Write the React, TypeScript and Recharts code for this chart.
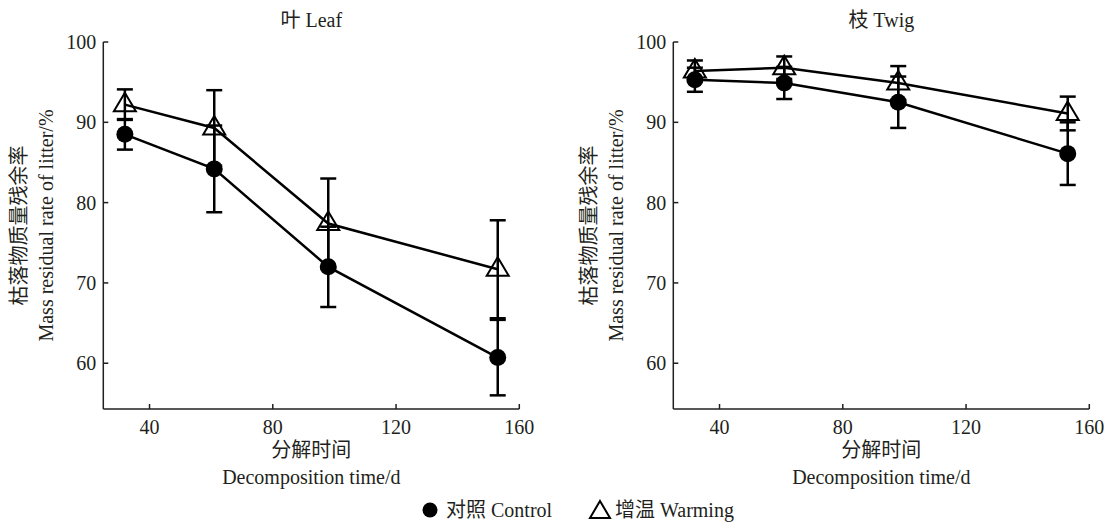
import { ErrorBar, Line, LineChart, XAxis, YAxis } from "recharts";

// sampling days (x) shared by both panels
const days = [32, 61, 98, 153];

// leaf litter, mass residual %
const leafControl = [88.5, 84.2, 72.0, 60.7];
const leafControlErr = [1.9, 5.4, 5.0, 4.7];
const leafWarming = [92.2, 89.3, 77.4, 71.7];
const leafWarmingErr = [1.9, 4.7, 5.6, 6.1];

// twig litter, mass residual %
const twigControl = [95.3, 94.9, 92.5, 86.1];
const twigControlErr = [1.5, 2.0, 3.2, 3.9];
const twigWarming = [96.4, 96.8, 94.9, 91.1];
const twigWarmingErr = [1.3, 1.4, 2.1, 2.1];

const xTicks = [40, 80, 120, 160];
const yTicks = [60, 70, 80, 90, 100];

const FONT = "'Liberation Serif', 'Times New Roman', 'Noto Sans CJK SC', serif";
const INK = "#231f20";
const FS = 20;
const PLOT_W = 416;

type Row = {
  day: number;
  control: number;
  controlErr: number;
  warming: number;
  warmingErr: number;
};

const buildRows = (
  control: number[],
  controlErr: number[],
  warming: number[],
  warmingErr: number[],
): Row[] =>
  days.map((day, i) => ({
    day,
    control: control[i],
    controlErr: controlErr[i],
    warming: warming[i],
    warmingErr: warmingErr[i],
  }));

const leafRows = buildRows(leafControl, leafControlErr, leafWarming, leafWarmingErr);
const twigRows = buildRows(twigControl, twigControlErr, twigWarming, twigWarmingErr);

// ticks point inward, so the tick line is drawn here together with the label
function XTick({ x, y, payload }: any) {
  return (
    <g>
      <line x1={x} x2={x} y1={y} y2={y - 5} stroke={INK} strokeWidth={1.5} />
      <text x={x} y={y + 18} textAnchor="middle" dominantBaseline="central" fill={INK} fontSize={FS} fontFamily={FONT}>
        {payload.value}
      </text>
    </g>
  );
}

function YTick({ x, y, payload }: any) {
  return (
    <g>
      <line x1={x} x2={x + 5} y1={y} y2={y} stroke={INK} strokeWidth={1.5} />
      <text x={x - 7} y={y} textAnchor="end" dominantBaseline="central" fill={INK} fontSize={FS} fontFamily={FONT}>
        {payload.value}
      </text>
    </g>
  );
}

function CircleDot({ cx, cy, index }: any) {
  return <circle key={`c${index}`} cx={cx} cy={cy} r={8.5} fill="#000" />;
}

function TriangleDot({ cx, cy, index }: any) {
  return (
    <path
      key={`t${index}`}
      d={`M${cx},${cy - 12} L${cx + 11},${cy + 6.5} L${cx - 11},${cy + 6.5} Z`}
      fill="none"
      stroke="#000"
      strokeWidth={2}
    />
  );
}

function Panel({ title, rows, left, width, marginLeft, marginRight }: {
  title: string;
  rows: Row[];
  left: number;
  width: number;
  marginLeft: number;
  marginRight: number;
}) {
  const yLabel = ({ viewBox }: any) => {
    const ax = viewBox.x + viewBox.width;
    const cy = viewBox.y + viewBox.height / 2;
    const l1 = ax - 84;
    const l2 = ax - 57;
    return (
      <g fill={INK} fontSize={FS} fontFamily={FONT}>
        <text x={ax + PLOT_W / 2} y={viewBox.y - 22} textAnchor="middle" dominantBaseline="central">
          {title}
        </text>
        <text x={l1} y={cy} transform={`rotate(-90 ${l1} ${cy})`} textAnchor="middle" dominantBaseline="central">
          枯落物质量残余率
        </text>
        <text x={l2} y={cy} transform={`rotate(-90 ${l2} ${cy})`} textAnchor="middle" dominantBaseline="central">
          Mass residual rate of litter/%
        </text>
      </g>
    );
  };

  const xLabel = ({ viewBox }: any) => {
    const cx = viewBox.x + viewBox.width / 2;
    return (
      <g fill={INK} fontSize={FS} fontFamily={FONT}>
        <text x={cx} y={viewBox.y + 41} textAnchor="middle" dominantBaseline="central">
          分解时间
        </text>
        <text x={cx} y={viewBox.y + 68} textAnchor="middle" dominantBaseline="central">
          Decomposition time/d
        </text>
      </g>
    );
  };

  return (
    <div style={{ position: "absolute", left, top: 0 }}>
      <LineChart
        width={width}
        height={490}
        data={rows}
        margin={{ top: 42, right: marginRight, bottom: 41, left: marginLeft }}
      >
        <XAxis
          dataKey="day"
          type="number"
          domain={[25, 160]}
          ticks={xTicks}
          interval={0}
          height={40}
          tickSize={0}
          tickMargin={0}
          tickLine={false}
          tick={<XTick />}
          axisLine={{ stroke: INK, strokeWidth: 1.5 }}
          label={{ content: xLabel }}
        />
        <YAxis
          type="number"
          domain={[54.3, 100]}
          ticks={yTicks}
          interval={0}
          width={60}
          tickSize={0}
          tickMargin={0}
          tickLine={false}
          tick={<YTick />}
          axisLine={{ stroke: INK, strokeWidth: 1.5 }}
          allowDataOverflow
          label={{ content: yLabel }}
        />
        <Line
          dataKey="warming"
          stroke="#000"
          strokeWidth={2.5}
          dot={TriangleDot}
          activeDot={false}
          isAnimationActive={false}
        >
          <ErrorBar dataKey="warmingErr" direction="y" width={8} stroke="#000" strokeWidth={2.5} />
        </Line>
        <Line
          dataKey="control"
          stroke="#000"
          strokeWidth={2.5}
          dot={CircleDot}
          activeDot={false}
          isAnimationActive={false}
        >
          <ErrorBar dataKey="controlErr" direction="y" width={8} stroke="#000" strokeWidth={2.5} />
        </Line>
      </LineChart>
    </div>
  );
}

export default function App() {
  return (
    <div
      style={{
        position: "absolute",
        left: 0,
        top: 0,
        width: 1109,
        height: 522,
        background: "#fff",
        overflow: "hidden",
      }}
    >
      <Panel title="叶 Leaf" rows={leafRows} left={0} width={555} marginLeft={43.3} marginRight={35.7} />
      <Panel title="枝 Twig" rows={twigRows} left={555} width={554} marginLeft={58.3} marginRight={19.7} />
      <svg
        width={1109}
        height={32}
        style={{ position: "absolute", left: 0, top: 490 }}
        fontFamily={FONT}
        fontSize={FS}
        fill={INK}
      >
        <circle cx={430} cy={20} r={7.5} fill="#000" />
        <text x={446} y={20} dominantBaseline="central">
          对照 Control
        </text>
        <path d="M600,11 L610,28 L590,28 Z" fill="none" stroke="#000" strokeWidth={2} />
        <text x={615} y={20} dominantBaseline="central">
          增温 Warming
        </text>
      </svg>
    </div>
  );
}
